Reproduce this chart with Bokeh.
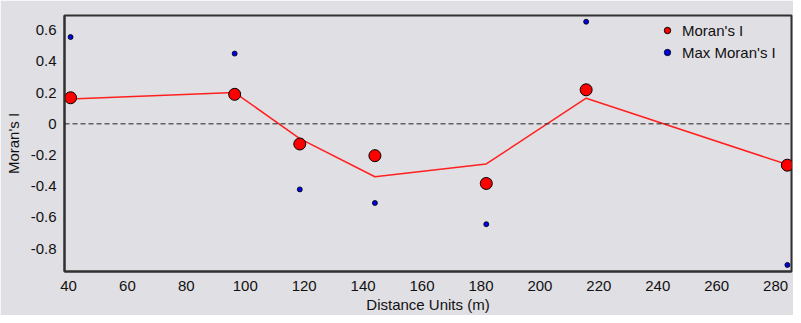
from bokeh.plotting import figure
from bokeh.models import FixedTicker, NumeralTickFormatter, Span, Range1d, Legend, LegendItem
from bokeh.embed import file_html
from bokeh.resources import INLINE

distance = [40.7, 96.4, 118.5, 144.0, 181.8, 215.7, 284.0]
morans_i = [0.167, 0.189, -0.129, -0.204, -0.382, 0.218, -0.265]
max_morans_i = [0.556, 0.45, -0.42, -0.507, -0.643, 0.654, -0.904]
trend = [0.159, 0.200, -0.095, -0.339, -0.257, 0.164, -0.261]

x_ticks = [40, 60, 80, 100, 120, 140, 160, 180, 200, 220, 240, 260, 280]
y_ticks = [-0.8, -0.6, -0.4, -0.2, 0, 0.2, 0.4, 0.6]

BG = "#E0DFE3"
FONT = "Liberation Sans"
FS = "15px"

p = figure(width=793, height=315, output_backend="svg", toolbar_location=None,
           x_range=Range1d(38.64, 285.4), y_range=Range1d(-0.946, 0.694),
           min_border_left=64, min_border_right=2, min_border_top=15, min_border_bottom=42)
p.background_fill_color = BG
p.border_fill_color = BG
p.outline_line_color = "#303030"
p.outline_line_width = 2
p.grid.visible = False

for ax in (p.xaxis[0], p.yaxis[0]):
    ax.major_tick_line_color = None
    ax.minor_tick_line_color = None
    ax.axis_line_color = "#303030"
    ax.axis_line_width = 2
    ax.major_label_text_font = FONT
    ax.major_label_text_font_size = FS
    ax.major_label_text_color = "#111111"
    ax.axis_label_text_font = FONT
    ax.axis_label_text_font_style = "normal"
    ax.axis_label_text_font_size = FS
    ax.axis_label_text_color = "#111111"

p.xaxis.ticker = FixedTicker(ticks=x_ticks)
p.yaxis.ticker = FixedTicker(ticks=y_ticks)
p.yaxis.formatter = NumeralTickFormatter(format="0.[0]")
p.xaxis.major_label_standoff = 3
p.yaxis.major_label_standoff = 2
p.xaxis.axis_label = "Distance Units (m)"
p.yaxis.axis_label = "Moran's I"
p.xaxis.axis_label_standoff = 2
p.yaxis.axis_label_standoff = 6

p.add_layout(Span(location=0, dimension="width", line_color="#222222",
                  line_dash="5 3", line_width=1))

p.line(distance, trend, line_color="#FF2020", line_width=1.5)
r1 = p.scatter(distance, morans_i, size=12, fill_color="#FF0000", line_color="#000000", line_width=1)
r2 = p.scatter(distance, max_morans_i, size=5, fill_color="#0000E0", line_color="#000000", line_width=0.8)

legend = Legend(items=[LegendItem(label="Moran's I", renderers=[r1]),
                       LegendItem(label="Max Moran's I", renderers=[r2])],
                location=(595, 209))
legend.background_fill_alpha = 0
legend.border_line_color = None
legend.label_text_font = FONT
legend.label_text_font_size = FS
legend.label_text_color = "#111111"
legend.glyph_width = 16
legend.label_standoff = 7
legend.spacing = 2
legend.margin = 0
legend.padding = 5
p.add_layout(legend)

open("out.html", "w").write(file_html(p, INLINE))
